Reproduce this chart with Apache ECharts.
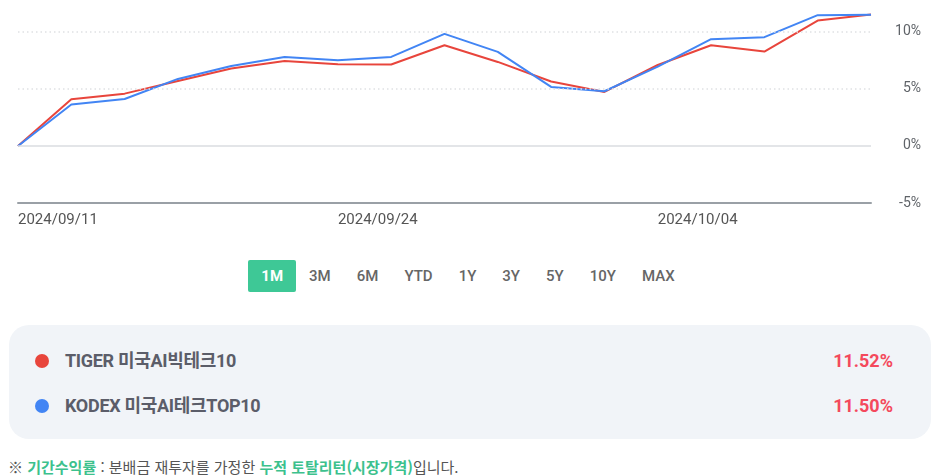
<!DOCTYPE html>
<html lang="ko">

<head>
  <meta charset="UTF-8">
  <title>기간수익률</title>
  <script src="https://cdn.jsdelivr.net/npm/echarts@6/dist/echarts.min.js"></script>
  <style>
    body { margin: 0; background: #fff; font-family: Roboto, "Noto Sans CJK KR", sans-serif; }
    #wrap { position: relative; width: 936px; height: 476px; overflow: hidden; }
    #main { position: absolute; left: 0; top: 0; width: 936px; height: 240px; }
    #tabs { position: absolute; left: 0; top: 260px; width: 936px; display: flex; justify-content: center; }
    #tabs span { height: 32px; line-height: 32px; padding: 0 13px; font-size: 15px; color: #666; font-weight: 500; border-radius: 2px; }
    #tabs span.on { background: #3ec896; color: #fff; font-weight: 700; }
    #box { position: absolute; left: 9px; top: 325px; width: 922px; height: 114px; background: #f1f4f8; border-radius: 20px; }
    .row { position: absolute; left: 0; width: 100%; height: 24px; line-height: 24px; font-size: 18px; font-weight: 700; }
    .row i { position: absolute; left: 26px; top: 5px; width: 14px; height: 14px; border-radius: 50%; }
    .row .nm { position: absolute; left: 56px; color: #5b5d69; letter-spacing: -0.3px; }
    .row .vl { position: absolute; right: 38px; color: #f4495c; }
    #note { position: absolute; left: 8px; top: 456px; font-size: 15px; color: #555; font-family: "Noto Sans CJK KR", sans-serif; }
    #note b { color: #3cc18d; }
  </style>
</head>

<body>
  <div id="wrap">
    <div id="main"></div>
    <div id="tabs"></div>
    <div id="box"></div>
    <div id="note">※ <b>기간수익률</b> : 분배금 재투자를 가정한 <b>누적 토탈리턴(시장가격)</b>입니다.</div>
  </div>
</body>

</html>
<script>
  const dates = ['2024/09/11', '2024/09/12', '2024/09/13', '2024/09/19', '2024/09/20', '2024/09/23',
    '2024/09/24', '2024/09/25', '2024/09/26', '2024/09/27', '2024/09/30', '2024/10/02',
    '2024/10/04', '2024/10/07', '2024/10/08', '2024/10/10', '2024/10/11'];
  const tigerVals = [0, 4.10, 4.59, 5.70, 6.79, 7.46, 7.17, 7.14, 8.83, 7.37, 5.65, 4.74, 7.10, 8.83, 8.28, 11.00, 11.52];
  const kodexVals = [0, 3.63, 4.12, 5.88, 7.02, 7.81, 7.52, 7.81, 9.83, 8.25, 5.18, 4.80, 6.95, 9.36, 9.54, 11.47, 11.50];
  const names = ['TIGER 미국AI빅테크10', 'KODEX 미국AI테크TOP10'];
  const colors = ['#e8453c', '#4285f4'];
  const periods = ['1M', '3M', '6M', 'YTD', '1Y', '3Y', '5Y', '10Y', 'MAX'];
  const yTicks = [-5, 0, 5, 10];

  // 기간 버튼
  document.getElementById('tabs').innerHTML = periods
    .map((p, i) => '<span class="' + (i === 0 ? 'on' : '') + '">' + p + '</span>').join('');

  // 하단 수익률 박스
  const series = [tigerVals, kodexVals];
  document.getElementById('box').innerHTML = names.map((n, i) => {
    const last = series[i][series[i].length - 1];
    return '<div class="row" style="top:' + (24 + i * 45) + 'px">' +
      '<i style="background:' + colors[i] + '"></i>' +
      '<span class="nm">' + n + '</span>' +
      '<span class="vl">' + last.toFixed(2) + '%</span></div>';
  }).join('');

  let myChart = echarts.init(document.getElementById('main'));
  let option = {
    animation: false,
    grid: { left: 18, right: 65, top: 0, bottom: 37 },
    xAxis: {
      type: 'category',
      data: dates,
      boundaryGap: false,
      axisLine: { onZero: false, lineStyle: { color: '#9aa0a6', width: 2 } },
      axisTick: { show: false },
      axisLabel: {
        interval: (idx) => idx % 6 === 0,
        align: 'left',
        margin: 10,
        color: '#555',
        fontSize: 15,
        fontFamily: 'Roboto'
      },
      splitLine: { show: false }
    },
    yAxis: {
      type: 'value',
      position: 'right',
      min: -5,
      max: 12.8,
      interval: 5,
      axisLine: { show: false },
      axisTick: { show: false },
      splitLine: { show: false },
      axisLabel: {
        align: 'right',
        margin: 50,
        color: '#5f6368',
        fontSize: 14,
        fontFamily: 'Roboto',
        formatter: (v) => yTicks.includes(v) ? v + '%' : ''
      }
    },
    series: [{
      name: names[0],
      type: 'line',
      data: tigerVals,
      symbol: 'none',
      lineStyle: { color: colors[0], width: 2 },
      markLine: {
        silent: true,
        symbol: 'none',
        label: { show: false },
        data: [
          { yAxis: 0, lineStyle: { color: '#dadce0', width: 1.5, type: 'solid' } },
          { yAxis: 5, lineStyle: { color: '#dfe1e4', width: 1.5, type: [1.5, 3] } },
          { yAxis: 10, lineStyle: { color: '#dfe1e4', width: 1.5, type: [1.5, 3] } }
        ]
      }
    }, {
      name: names[1],
      type: 'line',
      data: kodexVals,
      symbol: 'none',
      lineStyle: { color: colors[1], width: 2 }
    }]
  };
  myChart.setOption(option, true);
</script>
